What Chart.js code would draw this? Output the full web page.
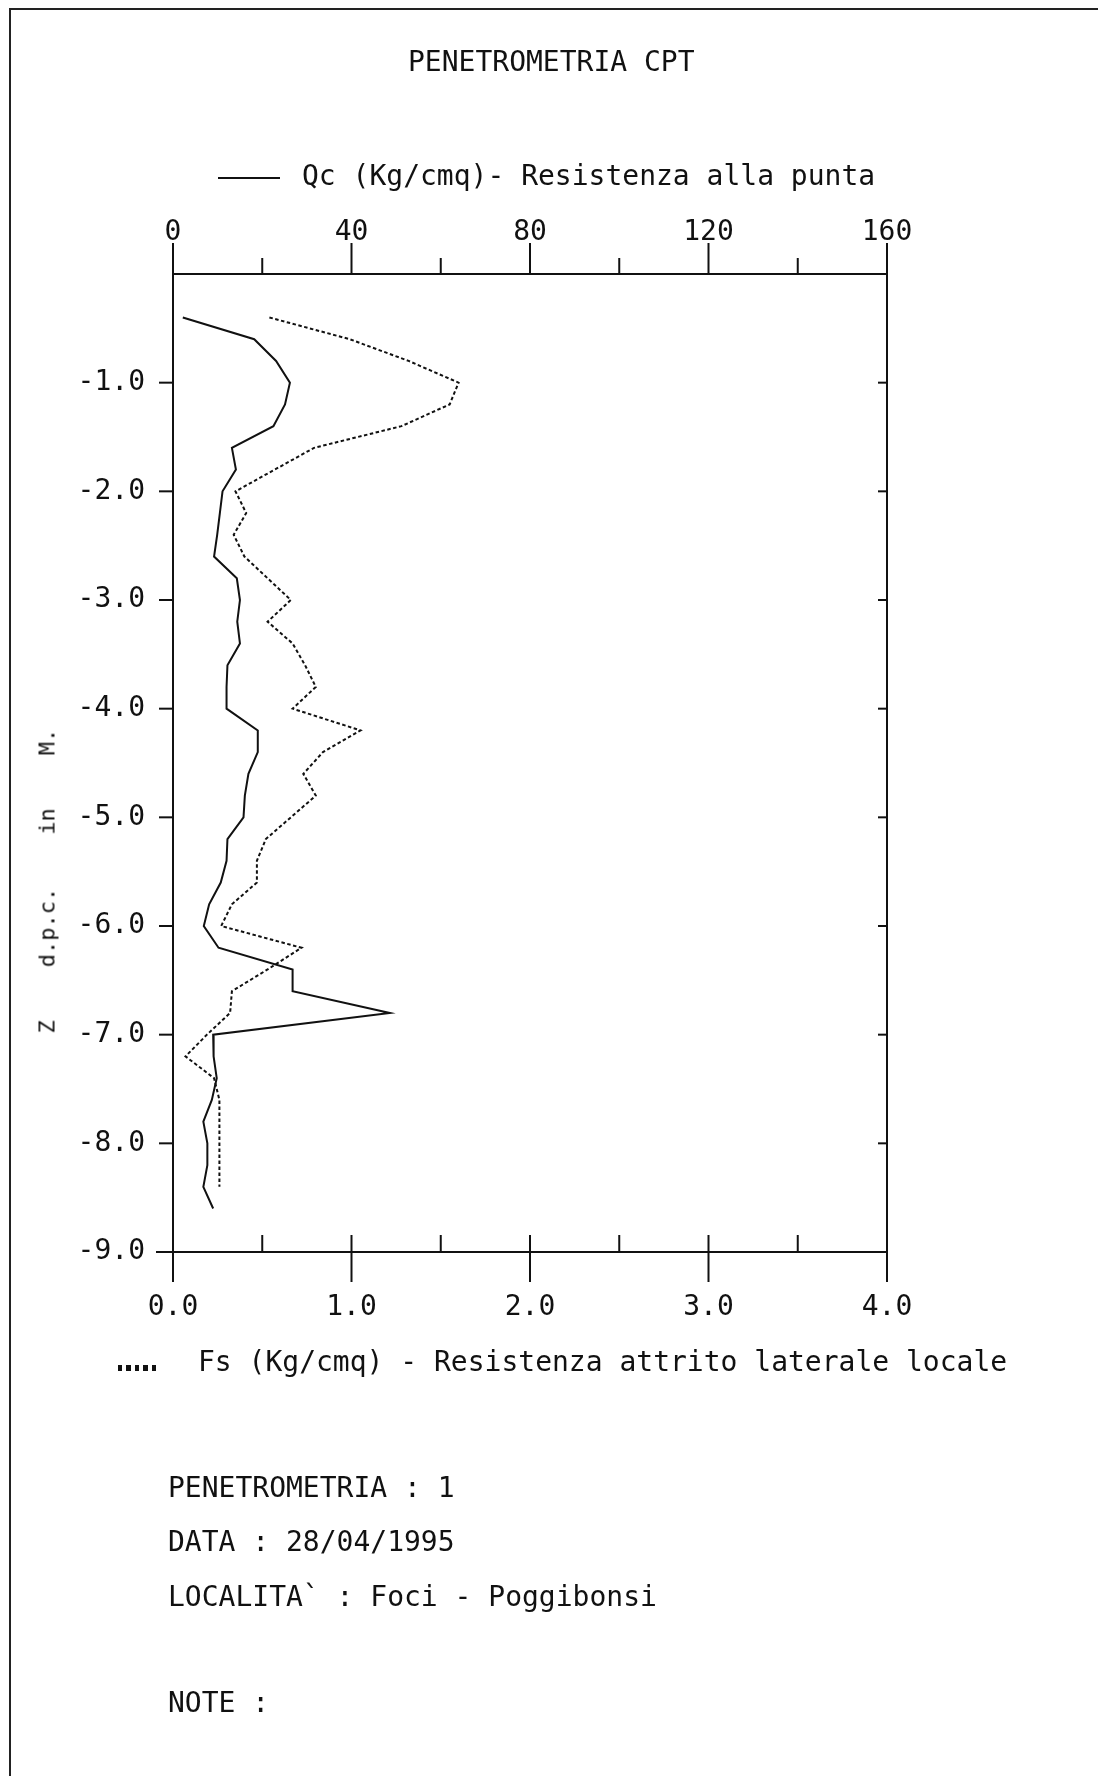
<!DOCTYPE html>
<html>
<head>
<meta charset="utf-8">
<title>Penetrometria CPT</title>
<script src="https://cdn.jsdelivr.net/npm/chart.js@4.4.1/dist/chart.umd.min.js"></script>
<style>
  html, body { margin: 0; padding: 0; background: #fff; }
  #page { position: relative; width: 1098px; height: 1776px; overflow: hidden; background: #fff; }
  #page canvas { position: absolute; left: 0; top: 0; }
  .sheet { position: absolute; left: 9px; top: 8px; right: -10px; bottom: -10px;
           border-left: 2px solid #222; border-top: 2px solid #222; }
  .txt { position: absolute; font-family: 'DejaVu Sans Mono', monospace; font-size: 28px;
         line-height: 28px; color: #111; white-space: pre; transform: translateY(-50%); }
  .solid-key { position: absolute; left: 218px; top: 177px; width: 62px; height: 2px; background: #111; }
  .dot-key { position: absolute; left: 118px; top: 1365px; width: 42px; height: 6px;
             background: repeating-linear-gradient(to right, #111 0 4px, transparent 4px 8.5px); }
  .ytitle { position: absolute; left: -105px; top: 870px; width: 305px; height: 22px;
            font-family: 'DejaVu Sans Mono', monospace; font-size: 22px; line-height: 22px;
            color: #111; white-space: pre; transform: rotate(-90deg); transform-origin: 50% 50%; }
</style>
</head>
<body>
<div id="page">
  <div class="sheet"></div>
  <canvas id="cpt" width="1098" height="1776"></canvas>

  <div class="txt" style="left:408px; top:62px;">PENETROMETRIA CPT</div>
  <div class="solid-key"></div>
  <div class="txt" style="left:302px; top:176px;">Qc (Kg/cmq)- Resistenza alla punta</div>

  <div class="ytitle">Z    d.p.c.    in    M.</div>

  <div class="dot-key"></div>
  <div class="txt" style="left:198px; top:1362px;">Fs (Kg/cmq) - Resistenza attrito laterale locale</div>

  <div class="txt" style="left:168px; top:1488px;">PENETROMETRIA : 1</div>
  <div class="txt" style="left:168px; top:1542px;">DATA : 28/04/1995</div>
  <div class="txt" style="left:168px; top:1597px;">LOCALITA` : Foci - Poggibonsi</div>
  <div class="txt" style="left:168px; top:1703px;">NOTE :</div>
</div>

<script>
// depth below ground level (m, negative downwards)
const qcDepth = [-0.4, -0.6, -0.8, -1.0, -1.2, -1.4, -1.6, -1.8, -2.0, -2.2, -2.4, -2.6, -2.8, -3.0,
                 -3.2, -3.4, -3.6, -3.8, -4.0, -4.2, -4.4, -4.6, -4.8, -5.0, -5.2, -5.4, -5.6, -5.8,
                 -6.0, -6.2, -6.4, -6.6, -6.8, -7.0, -7.2, -7.4, -7.6, -7.8, -8.0, -8.2, -8.4, -8.6];
// Qc - cone resistance (Kg/cmq)
const qcValues = [2.2, 18.2, 23.1, 26.2, 25.1, 22.5, 13.2, 14.1, 11.1, 10.5, 9.9, 9.2, 14.3, 15.0,
                  14.4, 15.0, 12.2, 12.0, 12.0, 19.0, 19.0, 16.9, 16.1, 15.8, 12.2, 12.0, 10.7, 8.1,
                  6.9, 10.2, 26.8, 26.8, 48.6, 9.0, 9.1, 9.8, 8.7, 6.8, 7.7, 7.7, 6.8, 9.0];

const fsDepth = [-0.4, -0.6, -0.8, -1.0, -1.2, -1.4, -1.6, -1.8, -2.0, -2.2, -2.4, -2.6, -2.8, -3.0,
                 -3.2, -3.4, -3.6, -3.8, -4.0, -4.2, -4.4, -4.6, -4.8, -5.0, -5.2, -5.4, -5.6, -5.8,
                 -6.0, -6.2, -6.4, -6.6, -6.8, -7.0, -7.2, -7.4, -7.6, -7.8, -8.0, -8.2, -8.4];
// Fs - local side friction (Kg/cmq)
const fsValues = [0.54, 0.99, 1.32, 1.60, 1.55, 1.28, 0.79, 0.57, 0.35, 0.41, 0.34, 0.40, 0.53, 0.66,
                  0.53, 0.67, 0.74, 0.80, 0.67, 1.05, 0.84, 0.73, 0.80, 0.66, 0.52, 0.47, 0.47, 0.33,
                  0.27, 0.72, 0.53, 0.33, 0.32, 0.19, 0.07, 0.23, 0.26, 0.26, 0.26, 0.26, 0.26];

// axes
const qcTicks = [0, 40, 80, 120, 160];
const qcMinorTicks = [20, 60, 100, 140];
const fsTicks = [0, 1, 2, 3, 4];
const fsTickLabels = ['0.0', '1.0', '2.0', '3.0', '4.0'];
const fsMinorTicks = [0.5, 1.5, 2.5, 3.5];
const depthTicks = [-1, -2, -3, -4, -5, -6, -7, -8, -9];
const depthTickLabels = ['-1.0', '-2.0', '-3.0', '-4.0', '-5.0', '-6.0', '-7.0', '-8.0', '-9.0'];

const ink = '#111';

Chart.defaults.font.family = "'DejaVu Sans Mono', monospace";
Chart.defaults.font.size = 28;
Chart.defaults.color = ink;

// frame + plotter style tick marks, placed with the chart's own scales
const axisMarks = {
  id: 'axisMarks',
  afterDraw(chart) {
    const { ctx, chartArea: a, scales } = chart;
    const line = (x1, y1, x2, y2) => {
      ctx.beginPath(); ctx.moveTo(x1, y1); ctx.lineTo(x2, y2); ctx.stroke();
    };
    ctx.save();
    ctx.strokeStyle = ink;
    ctx.lineWidth = 2;
    ctx.strokeRect(a.left, a.top, a.right - a.left, a.bottom - a.top);

    qcTicks.forEach(v => {
      const x = scales.x.getPixelForValue(v);
      line(x, a.top, x, a.top - 31);
    });
    qcMinorTicks.forEach(v => {
      const x = scales.x.getPixelForValue(v);
      line(x, a.top, x, a.top - 16);
    });
    fsTicks.forEach(v => {
      const x = scales.x2.getPixelForValue(v);
      line(x, a.bottom - 17, x, a.bottom + 30);
    });
    fsMinorTicks.forEach(v => {
      const x = scales.x2.getPixelForValue(v);
      line(x, a.bottom - 17, x, a.bottom);
    });
    depthTicks.forEach(v => {
      const y = scales.y.getPixelForValue(v);
      line(a.left - (v === -9 ? 17 : 14), y, a.left, y);
      if (v > -9) line(a.right - 9, y, a.right, y);
    });
    ctx.restore();
  }
};

new Chart(document.getElementById('cpt'), {
  type: 'scatter',
  data: {
    datasets: [
      {
        label: 'Qc (Kg/cmq)',
        data: qcValues.map((v, i) => ({ x: v, y: qcDepth[i] })),
        xAxisID: 'x',
        showLine: true,
        borderColor: ink,
        borderWidth: 2,
        pointRadius: 0,
        tension: 0,
      },
      {
        label: 'Fs (Kg/cmq)',
        data: fsValues.map((v, i) => ({ x: v, y: fsDepth[i] })),
        xAxisID: 'x2',
        showLine: true,
        borderColor: ink,
        borderWidth: 2,
        borderDash: [3.5, 2.5],
        pointRadius: 0,
        tension: 0,
      },
    ],
  },
  options: {
    responsive: false,
    animation: false,
    devicePixelRatio: 1,
    layout: { padding: { left: 0, top: 0, right: 211, bottom: 0 } },
    plugins: { legend: { display: false }, tooltip: { enabled: false } },
    scales: {
      x: {
        type: 'linear',
        position: 'top',
        min: 0, max: 160,
        afterFit: s => { s.height = 274; },
        afterBuildTicks: s => { s.ticks = qcTicks.map(v => ({ value: v })); },
        grid: { display: false, drawTicks: false },
        border: { display: false },
        ticks: { padding: 24, autoSkip: false, maxRotation: 0, callback: (v, i) => String(qcTicks[i]) },
      },
      x2: {
        type: 'linear',
        axis: 'x',
        position: 'bottom',
        min: 0, max: 4,
        afterFit: s => { s.height = 524; },
        afterBuildTicks: s => { s.ticks = fsTicks.map(v => ({ value: v })); },
        grid: { display: false, drawTicks: false },
        border: { display: false },
        ticks: { padding: 39, autoSkip: false, maxRotation: 0, callback: (v, i) => fsTickLabels[i] },
      },
      y: {
        type: 'linear',
        position: 'left',
        min: -9, max: 0,
        afterFit: s => { s.width = 173; },
        afterBuildTicks: s => { s.ticks = depthTicks.map(v => ({ value: v })); },
        grid: { display: false, drawTicks: false },
        border: { display: false },
        ticks: { padding: 28, autoSkip: false, callback: (v, i) => depthTickLabels[i] },
      },
    },
  },
  plugins: [axisMarks],
});
</script>
</body>
</html>
